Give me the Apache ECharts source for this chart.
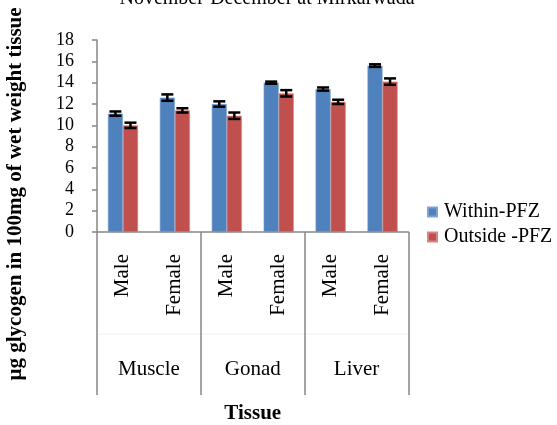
<!DOCTYPE html>
<html>
<head>
<meta charset="utf-8">
<script src="https://cdn.jsdelivr.net/npm/echarts@6/dist/echarts.min.js"></script>
<style>
  html, body { margin: 0; padding: 0; background: #fff; }
  #chart { width: 557px; height: 425px; }
</style>
</head>
<body>
<div id="chart"></div>
<script>
// Glycogen content by tissue and sex, inside and outside the PFZ
const sexes = ['Male', 'Female', 'Male', 'Female', 'Male', 'Female'];
const tissues = ['Muscle', 'Gonad', 'Liver'];
const withinPFZ = [11.1, 12.6, 12.0, 14.0, 13.4, 15.6];
const withinErr = [0.2, 0.3, 0.25, 0.1, 0.15, 0.12];
const outsidePFZ = [10.0, 11.4, 10.9, 13.0, 12.2, 14.1];
const outsideErr = [0.25, 0.2, 0.3, 0.3, 0.2, 0.3];
const yTicks = { min: 0, max: 18, interval: 2 };

const serif = '"Liberation Serif", "DejaVu Serif", serif';
const barCategoryGap = 0.42;

// Error bar renderer: side = -1 for the left bar of a pair, +1 for the right
function errorBarRenderer(side) {
  return function (params, api) {
    const idx = api.value(0);
    const val = api.value(1);
    const err = api.value(2);
    const band = api.size([1, 0])[0];
    const barW = band * (1 - barCategoryGap) / 2;
    const c = api.coord([idx, val]);
    const x = c[0] + side * barW / 2;
    const hi = api.coord([idx, val + err])[1];
    const lo = api.coord([idx, val - err])[1];
    const half = 6;
    const style = { stroke: '#000', lineWidth: 2.5 };
    return {
      type: 'group',
      children: [
        { type: 'line', shape: { x1: x, y1: hi, x2: x, y2: lo }, style: style },
        { type: 'line', shape: { x1: x - half, y1: hi, x2: x + half, y2: hi }, style: style },
        { type: 'line', shape: { x1: x - half, y1: lo, x2: x + half, y2: lo }, style: style }
      ]
    };
  };
}

const chart = echarts.init(document.getElementById('chart'));
chart.setOption({
  animation: false,
  backgroundColor: '#fff',
  title: {
    text: 'November-December at Mirkarwada',
    left: 262,
    textAlign: 'center',
    top: -16,
    textStyle: { fontFamily: serif, fontSize: 20, fontWeight: 'normal', color: '#000' }
  },
  legend: {
    orient: 'vertical',
    left: 427,
    top: 202,
    padding: 0,
    itemWidth: 9,
    itemHeight: 9,
    itemGap: 5,
    icon: 'rect',
    textStyle: { fontFamily: serif, fontSize: 20, color: '#000', padding: [0, 0, 0, 2] },
    data: ['Within-PFZ', 'Outside -PFZ']
  },
  grid: { left: 97, right: 148.5, top: 40, bottom: 192.5, containLabel: false },
  xAxis: [
    {
      type: 'category',
      data: sexes,
      position: 'bottom',
      axisLine: { show: true, lineStyle: { color: '#868686', width: 1.5 } },
      axisTick: { show: false },
      axisLabel: {
        rotate: 90,
        interval: 0,
        margin: 22,
        fontFamily: serif,
        fontSize: 21,
        color: '#000'
      }
    },
    {
      type: 'category',
      data: tissues,
      position: 'bottom',
      axisLine: { show: false },
      axisTick: { show: true, length: 163, interval: 0, lineStyle: { color: '#868686', width: 1.5 } },
      axisLabel: { interval: 0, margin: 127, fontFamily: serif, fontSize: 21, color: '#000' },
      name: 'Tissue',
      nameLocation: 'middle',
      nameGap: 171,
      nameTextStyle: { fontFamily: serif, fontSize: 21, fontWeight: 'bold', color: '#000' }
    }
  ],
  yAxis: {
    type: 'value',
    min: yTicks.min,
    max: yTicks.max,
    interval: yTicks.interval,
    axisLine: { show: true, lineStyle: { color: '#868686', width: 1.5 } },
    axisTick: { show: true, length: 5, lineStyle: { color: '#868686', width: 1.5 } },
    splitLine: { show: false },
    axisLabel: { margin: 23, fontFamily: serif, fontSize: 18, color: '#000' }
  },
  graphic: [
    {
      type: 'text',
      x: 16,
      y: 194,
      rotation: Math.PI / 2,
      style: {
        text: 'µg glycogen in 100mg of wet weight tissue',
        fontFamily: serif,
        fontSize: 21,
        fontWeight: 'bold',
        fill: '#000',
        align: 'center',
        verticalAlign: 'middle'
      }
    },
    {
      type: 'line',
      shape: { x1: 98, y1: 334, x2: 408, y2: 334 },
      style: { stroke: '#eeeeee', lineWidth: 1 }
    }
  ],
  series: [
    {
      name: 'Within-PFZ',
      type: 'bar',
      data: withinPFZ,
      barGap: '0%',
      barCategoryGap: (barCategoryGap * 100) + '%',
      itemStyle: { color: '#4F81BD', borderColor: '#7FA3D3', borderWidth: 0.6 }
    },
    {
      name: 'Outside -PFZ',
      type: 'bar',
      data: outsidePFZ,
      barGap: '0%',
      barCategoryGap: (barCategoryGap * 100) + '%',
      itemStyle: { color: '#C0504D', borderColor: '#D58583', borderWidth: 0.6 }
    },
    {
      type: 'custom',
      renderItem: errorBarRenderer(-1),
      data: withinPFZ.map((v, i) => [i, v, withinErr[i]]),
      encode: { x: 0, y: 1 },
      z: 10,
      silent: true
    },
    {
      type: 'custom',
      renderItem: errorBarRenderer(1),
      data: outsidePFZ.map((v, i) => [i, v, outsideErr[i]]),
      encode: { x: 0, y: 1 },
      z: 10,
      silent: true
    }
  ]
});
</script>
</body>
</html>
